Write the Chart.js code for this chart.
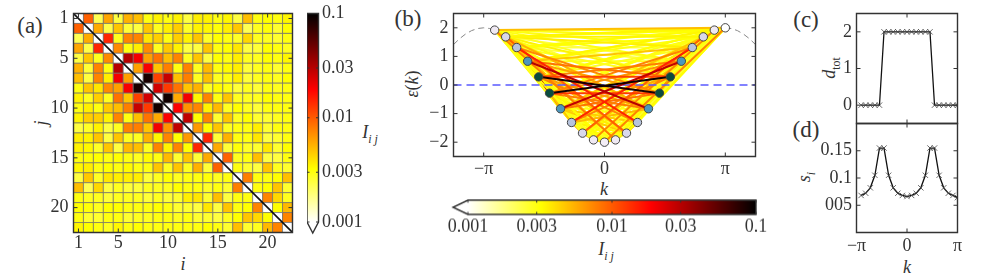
<!DOCTYPE html>
<html>
<head>
<meta charset="utf-8">
<script src="https://cdn.jsdelivr.net/npm/chart.js@4"></script>
<style>
html,body{margin:0;padding:0;background:#fff;}
body{position:relative;width:1008px;height:274px;overflow:hidden;font-family:"Liberation Serif",serif;color:#333;}
canvas{position:absolute;}
.t{position:absolute;white-space:nowrap;transform:translate(-50%,-50%);font-size:18px;line-height:1;}
.r{transform:translate(-50%,-50%) rotate(-90deg);}
.p{font-size:23px;}
sub{font-size:12px;line-height:0;}
</style>
</head>
<body>
<span class="t p" style="left:30px;top:25px">(a)</span>
<span class="t p" style="left:408px;top:18px">(b)</span>
<span class="t p" style="left:806px;top:19px">(c)</span>
<span class="t p" style="left:806px;top:129px">(d)</span>
<span class="t" style="left:183px;top:264px"><i>i</i></span>
<span class="t r" style="left:41px;top:123px"><i>j</i></span>
<span class="t" style="left:370px;top:132px"><i>I<sub>i j</sub></i></span>
<span class="t r" style="left:412px;top:84px"><i>ε</i>(<i>k</i>)</span>
<span class="t" style="left:604px;top:189px"><i>k</i></span>
<span class="t" style="left:606px;top:249px"><i>I<sub>i j</sub></i></span>
<span class="t r" style="left:829px;top:68px"><i>d</i><sub>tot</sub></span>
<span class="t r" style="left:804px;top:177px"><i>s<sub>i</sub></i></span>
<span class="t" style="left:907px;top:267px"><i>k</i></span>
<script>
// upper triangle of I_ij, row i holds columns i+1..22
const mutualInfo=[
[.0096,.0022,.006,.0024,.0055,.005,.003,.0035,.003,.0035,.0024,.0036,.0035,.003,.0034,.0024,.005,.003,.0032,.003,.0034],
[.0058,.0023,.0048,.0025,.0024,.0048,.0028,.0036,.0045,.0027,.0035,.0034,.0031,.0036,.0047,.0022,.0028,.0031,.0026,.0032],
[.0145,.0028,.0075,.0075,.0038,.0045,.003,.0045,.0035,.0048,.0027,.0032,.003,.0027,.0042,.0028,.0028,.0026,.003],
[.0072,.003,.0036,.0072,.0028,.0047,.0035,.0024,.0024,.0048,.003,.0032,.0038,.0024,.0025,.0032,.003,.0028],
[.03,.02,.0062,.0085,.005,.0075,.0028,.0048,.0024,.0032,.003,.0036,.0028,.0028,.0032,.003,.0034],
[.0062,.0195,.0048,.0078,.003,.0076,.0028,.0052,.003,.0033,.0036,.0025,.0028,.003,.0026,.003],
[.085,.012,.027,.005,.0078,.0028,.005,.0028,.003,.0036,.0025,.0028,.003,.0028,.0032],
[.025,.0125,.0085,.0048,.0055,.0028,.0033,.003,.0025,.0028,.0025,.003,.0028,.003],
[.09,.0058,.02,.0034,.0075,.003,.0048,.0028,.0028,.0028,.0032,.003,.003],
[.019,.0068,.0075,.0035,.0052,.0028,.0032,.0028,.0025,.003,.003,.003],
[.028,.0032,.0075,.0026,.0048,.0028,.0032,.0026,.0026,.0028,.003],
[.0065,.0032,.0048,.0028,.003,.003,.0036,.0026,.003,.003],
[.0145,.0025,.0055,.003,.003,.0038,.0024,.0026,.003],
[.0058,.0025,.0031,.0027,.0026,.0038,.0026,.0032],
[.0095,.0028,.003,.005,.0024,.0024,.003],
[.003,.0026,.0024,.0048,.0028,.0026],
[.0078,.003,.003,.0032,.005],
[.003,.0032,.0048,.0026],
[.0075,.0042,.0028],
[.0032,.0052],
[.0075]
];
const matrixTicks=[1,5,10,15,20];

// momenta in units of pi, and the band energy at each
const kPi=[-.909,-.818,-.727,-.636,-.545,-.455,-.364,-.273,-.182,-.091,0,.091,.182,.273,.364,.455,.545,.636,.727,.818,.909,1];
const energy=[1.919,1.683,1.31,.831,.285,-.285,-.831,-1.31,-1.683,-1.919,-2,-1.919,-1.683,-1.31,-.831,-.285,.285,.831,1.31,1.683,1.919,2];
// which entry of kPi each matrix index sits on
const orbitalSite=[1,12,13,2,3,14,4,15,16,5,6,17,18,7,8,19,0,11,9,20,10,21];
const siteColors=['#efe9f3','#d9d8ea','#b7c4dd','#4b97bd','#0a4c3e','#0a4c3e','#4b97bd','#b7c4dd','#d9d8ea','#efe9f3','#f3eef6','#efe9f3','#d9d8ea','#b7c4dd','#4b97bd','#0a4c3e','#0a4c3e','#4b97bd','#b7c4dd','#d9d8ea','#efe9f3','#ffffff'];
const bandLeftK=[-1.25,-1.2,-1.15,-1.1,-1.05,-1,-.95,-.909];
const bandLeftE=[1.414,1.618,1.782,1.902,1.975,2,1.975,1.919];
const bandRightK=[1,1.05,1.1,1.15,1.2,1.25];
const bandRightE=[2,1.975,1.902,1.782,1.618,1.414];
const fermiK=[-1.25,1.25];
const fermiE=[0,0];

const dTot=[0,0,0,0,0,2,2,2,2,2,2,2,2,2,2,2,0,0,0,0,0,0];
const sSite=[.068,.072,.082,.105,.155,.155,.105,.082,.072,.068,.066,.068,.072,.082,.105,.155,.155,.105,.082,.072,.068,.064];

const kTicks=[-1,0,1];
const kLabels=['\u2212\u03c0','0','\u03c0'];
const energyTicks=[-2,-1,0,1,2];
const energyLabels=['\u22122','\u22121','0','1','2'];
const dTicks=[0,1,2];
const sTicks=[.05,.1,.15];
const sLabels=['005','0.1','0.15'];
const barTicks=[.001,.003,.01,.03,.1];
const barLabels=['0.001','0.003','0.01','0.03','0.1'];

const ink='#333';
const tickFont={family:'"Liberation Serif",serif',size:18};

function hotR(v){
  const t=Math.log10(v/.001)/2;
  let r,g,b;
  if(t<.254){r=255;g=255;b=255*(1-t/.254);}
  else if(t<.635){r=255;g=255*(1-(t-.254)/.381);b=0;}
  else{r=255*(1-(t-.635)/.365);g=0;b=0;}
  return 'rgb('+Math.round(r)+','+Math.round(g)+','+Math.round(b)+')';
}

function value(i,j){return i<j?mutualInfo[i][j-i-1]:mutualInfo[j][i-j-1];}

// frame and inward ticks on the chart area
const framePlugin={
  id:'frame',
  afterDatasetsDraw(chart){
    const o=chart.options.plugins.frame;
    if(!o)return;
    const a=chart.chartArea,c=chart.ctx;
    c.save();
    c.strokeStyle=ink;
    c.lineWidth=1;
    c.beginPath();
    if(o.sides.includes('x')){
      chart.scales.x.ticks.forEach(t=>{
        const p=chart.scales.x.getPixelForValue(t.value);
        c.moveTo(p,a.top);c.lineTo(p,a.top+o.len);
        c.moveTo(p,a.bottom);c.lineTo(p,a.bottom-o.len);
      });
    }
    if(o.sides.includes('y')){
      chart.scales.y.ticks.forEach(t=>{
        const p=chart.scales.y.getPixelForValue(t.value);
        c.moveTo(a.left,p);c.lineTo(a.left+o.len,p);
        c.moveTo(a.right,p);c.lineTo(a.right-o.len,p);
      });
    }
    c.stroke();
    c.lineWidth=1.4;
    c.beginPath();
    if(o.tip==='bottom'){
      c.moveTo(a.left,a.top);c.lineTo(a.right,a.top);c.lineTo(a.right,a.bottom);
      c.lineTo((a.left+a.right)/2,a.bottom+o.tipLen);c.lineTo(a.left,a.bottom);c.closePath();
    }else if(o.tip==='left'){
      c.moveTo(a.right,a.top);c.lineTo(a.right,a.bottom);c.lineTo(a.left,a.bottom);
      c.lineTo(a.left-o.tipLen,(a.top+a.bottom)/2);c.lineTo(a.left,a.top);c.closePath();
    }else{
      c.rect(a.left,a.top,a.right-a.left,a.bottom-a.top);
    }
    c.stroke();
    c.restore();
  }
};

function setTicks(values){return s=>{s.ticks=values.map(v=>({value:v}));};}
function labelsFor(values,labels){return v=>labels[values.indexOf(v)]!==undefined?labels[values.indexOf(v)]:'';}

function axis(extra,values,labels,padding){
  return Object.assign({
    grid:{display:false,drawTicks:false},
    border:{display:false},
    afterBuildTicks:setTicks(values),
    ticks:{
      display:!!labels,
      autoSkip:false,maxRotation:0,minRotation:0,
      padding:padding,color:ink,font:tickFont,
      callback:labels?labelsFor(values,labels):()=>''
    }
  },extra);
}

// box is the plot area on the page, room the space kept round it for labels
function place(box,room,config){
  const cv=document.createElement('canvas');
  const left=box.l-room.l,top=box.t-room.t;
  const w=box.r-box.l+room.l+room.r,h=box.b-box.t+room.t+room.b;
  cv.width=w;cv.height=h;
  cv.style.left=left+'px';cv.style.top=top+'px';
  cv.style.width=w+'px';cv.style.height=h+'px';
  document.body.appendChild(cv);
  const pad={left:room.l,top:room.t,right:room.r,bottom:room.b};
  Object.values(config.options.scales).forEach(s=>{
    if(s.display===false)return;
    // scale boxes take the whole margin so labels are not clipped
    const side=s.position||(s.isX?'bottom':'left');
    pad[side]=0;
    s.afterFit=f=>{
      if(side==='bottom')f.height=room.b;
      if(side==='left')f.width=room.l;
      if(side==='right')f.width=room.r;
      f.paddingTop=f.paddingBottom=f.paddingLeft=f.paddingRight=0;
    };
    delete s.isX;
  });
  config.plugins=[framePlugin];
  config.options.responsive=false;
  config.options.animation=false;
  config.options.events=[];
  config.options.layout={autoPadding:false,padding:pad};
  config.options.plugins=Object.assign({legend:{display:false},tooltip:{enabled:false}},config.options.plugins);
  return new Chart(cv,config);
}

// (a) matrix
const cells=[];
for(let i=0;i<22;i++){
  for(let j=0;j<22;j++){
    cells.push({x:j+1,y:i+1,c:i===j?'#ffffff':hotR(value(i,j))});
  }
}
place({l:73.5,t:13.5,r:292.5,b:232.5},{l:33.5,t:5.5,r:7.5,b:30.5},{
  type:'scatter',
  data:{datasets:[
    {type:'line',data:[{x:.5,y:.5},{x:22.5,y:22.5}],borderColor:'#111',borderWidth:1.6,pointRadius:0,order:0},
    {data:cells,pointStyle:'rect',pointRadius:7.05,pointBackgroundColor:cells.map(c=>c.c),pointBorderColor:'rgba(110,110,110,.7)',pointBorderWidth:1,order:1}
  ]},
  options:{
    scales:{
      x:axis({isX:true,type:'linear',min:.5,max:22.5},matrixTicks,matrixTicks.map(String),0),
      y:axis({type:'linear',min:.5,max:22.5,reverse:true},matrixTicks,matrixTicks.map(String),5)
    },
    plugins:{frame:{sides:'xy',len:4}}
  }
});

// floating bar from the lowest to the highest level, filled with the colormap
function barGradient(ctx,vertical){
  const a=ctx.chart.chartArea;
  if(!a)return '#ff0';
  const c=ctx.chart.ctx;
  const g=vertical?c.createLinearGradient(0,a.bottom,0,a.top):c.createLinearGradient(a.left,0,a.right,0);
  g.addColorStop(0,'#ffffff');
  g.addColorStop(.254,'#ffff00');
  g.addColorStop(.635,'#ff0000');
  g.addColorStop(1,'#000000');
  return g;
}

place({l:307,t:13.5,r:318.5,b:222},{l:0,t:13.5,r:55.5,b:20},{
  type:'bar',
  data:{labels:['I'],datasets:[{data:[[.001,.1]],backgroundColor:c=>barGradient(c,true),barPercentage:1,categoryPercentage:1}]},
  options:{
    scales:{
      x:{display:false},
      y:axis({type:'logarithmic',position:'right',min:.001,max:.1},barTicks,barLabels,3.5)
    },
    plugins:{frame:{sides:'y',len:2.5,tip:'bottom',tipLen:11}}
  }
});

// (b) band with all pairs, long strong chords on top, short side edges underneath
const pairs=[];
for(let i=0;i<22;i++){
  for(let j=i+1;j<22;j++){
    const a=orbitalSite[i],b=orbitalSite[j],v=value(i,j);
    pairs.push({
      type:'line',
      data:[{x:kPi[a],y:energy[a]},{x:kPi[b],y:energy[b]}],
      borderColor:hotR(v),borderWidth:2,pointRadius:0,
      order:-v*Math.abs(kPi[a]-kPi[b])*1000
    });
  }
}
function toPoints(xs,ys){return xs.map((x,n)=>({x:x,y:ys[n]}));}
place({l:453.5,t:13.5,r:755.5,b:156.5},{l:45.5,t:5.5,r:10.5,b:24.5},{
  type:'scatter',
  data:{datasets:[
    {type:'line',data:toPoints(bandLeftK,bandLeftE),borderColor:'#888',borderWidth:1,borderDash:[6,4],pointRadius:0,order:10},
    {type:'line',data:toPoints(bandRightK,bandRightE),borderColor:'#888',borderWidth:1,borderDash:[6,4],pointRadius:0,order:10},
    {type:'line',data:toPoints(fermiK,fermiE),borderColor:'#5a5aff',borderWidth:1.6,borderDash:[8,5],pointRadius:0,order:-12},
    ...pairs,
    {data:toPoints(kPi,energy),pointRadius:4.2,pointBackgroundColor:siteColors,pointBorderColor:'#444',pointBorderWidth:1,order:-500}
  ]},
  options:{
    scales:{
      x:axis({isX:true,type:'linear',min:-1.25,max:1.25},kTicks,kLabels,2),
      y:axis({type:'linear',min:-2.5,max:2.5},energyTicks,energyLabels,5)
    },
    plugins:{frame:{sides:'xy',len:4}}
  }
});

place({l:468,t:200,r:756,b:214.5},{l:25,t:5,r:20,b:27},{
  type:'bar',
  data:{labels:['I'],datasets:[{data:[[.001,.1]],backgroundColor:c=>barGradient(c,false),barPercentage:1,categoryPercentage:1}]},
  options:{
    indexAxis:'y',
    scales:{
      y:{display:false},
      x:axis({isX:true,type:'logarithmic',min:.001,max:.1},barTicks,barLabels,1)
    },
    plugins:{frame:{sides:'x',len:2.5,tip:'left',tipLen:15}}
  }
});

// (c) and (d)
function seriesPanel(box,room,ys,xLabels,yScale,yTicks,yLabels){
  place(box,room,{
    type:'scatter',
    data:{datasets:[{
      type:'line',data:toPoints(kPi,ys),borderColor:'#111',borderWidth:1.3,
      pointStyle:'crossRot',pointRadius:3.8,pointBorderColor:'#444',pointBorderWidth:.8
    }]},
    options:{
      scales:{
        x:axis({isX:true,type:'linear',min:-1,max:1},kTicks,xLabels,3),
        y:axis(yScale,yTicks,yLabels,4.5)
      },
      plugins:{frame:{sides:'xy',len:4}}
    }
  });
}
seriesPanel({l:856.5,t:13.5,r:957.5,b:123.5},{l:32.5,t:5.5,r:10.5,b:2.5},dTot,null,{type:'linear',min:-.5,max:2.5},dTicks,dTicks.map(String));
seriesPanel({l:856.5,t:123.5,r:957.5,b:232.5},{l:46.5,t:2.5,r:14.5,b:30.5},sSite,kLabels,{type:'linear',min:0,max:.2},sTicks,sLabels);
</script>
</body>
</html>
